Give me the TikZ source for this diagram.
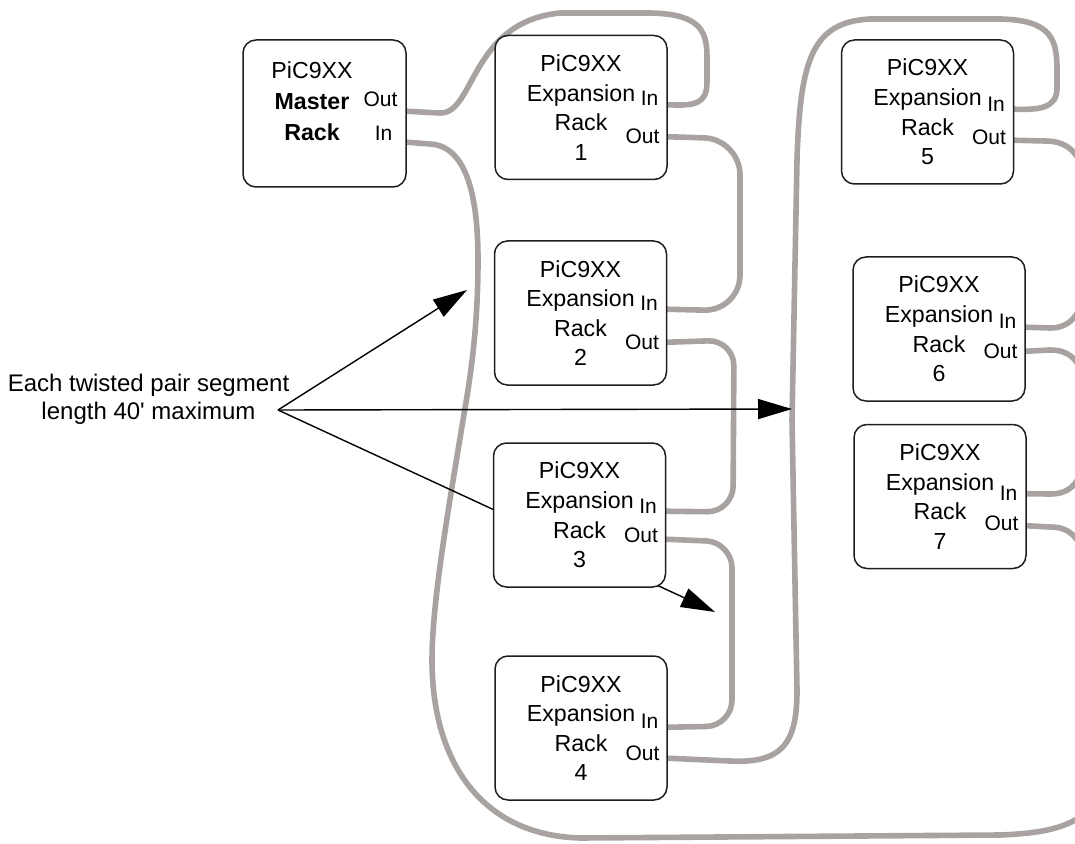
\documentclass[tikz,border=0pt]{standalone}
\usepackage{fontspec}
\setmainfont{Liberation Sans}
\usetikzlibrary{arrows.meta,calc,backgrounds}
\definecolor{cableGray}{RGB}{168,163,160}
\definecolor{boxLine}{RGB}{30,30,30}
\newcommand{\racktext}{\fontsize{11.6}{14.8}\selectfont}
\newcommand{\mastertext}{\fontsize{11.6}{15.6}\selectfont}
\newcommand{\porttext}{\fontsize{10.5}{12}\selectfont}
\newcommand{\notetext}{\fontsize{12}{14}\selectfont}
\tikzset{
  rackbox/.style={rectangle, rounded corners=6.5pt, draw=boxLine, line width=0.75pt,
                  fill=white, minimum width=86pt, minimum height=72pt,
                  align=center, font=\racktext, inner sep=0pt},
  port/.style={inner sep=0pt, font=\porttext},
  cable/.style={draw=cableGray, line width=2.8pt, line cap=round},
  pointer/.style={-{Triangle[length=17pt,width=10pt]}, line width=0.7pt},
  note/.style={align=center, font=\notetext, inner sep=0pt},
}
\newcommand{\ExpRack}[6]{%
  \node[rackbox] (#1) at (#2,#3) {PiC9XX\\Expansion\\Rack\\#4};
  \node[port, anchor=east] (#1in) at ($(#1.north east)+(-9,#5)$) {In};
  \node[port, anchor=east] (#1out) at ($(#1.north east)+(-8,#6)$) {Out};}

\begin{document}
\begin{tikzpicture}[x=0.5pt, y=-0.5pt]
  \useasboundingbox (0,0) rectangle (1075,844);
  \clip (0,0) rectangle (1075,844);

  % --- master rack ---
  \node[rackbox, minimum width=81.5pt, minimum height=73.5pt] (master) at (324.5,113.5) {};
  \node[align=center, font=\mastertext, inner sep=0pt] (mastertxt) at (312,101.5)
    {PiC9XX\\\textbf{Master}\\\textbf{Rack}};
  \node[port, anchor=east] (mastout) at ($(master.north east)+(-9,60)$) {Out};
  \node[port, anchor=east] (mastin) at ($(master.north east)+(-14,94)$) {In};

  % --- expansion racks ---
  \ExpRack{r1}{581}{107.5}{1}{64}{102}
  \ExpRack{r2}{580.5}{313}{2}{63}{102}
  \ExpRack{r3}{579.5}{515}{3}{64}{93}
  \ExpRack{r4}{581}{728}{4}{66}{98}
  \ExpRack{r5}{927.5}{112}{5}{65}{98}
  \ExpRack{r6}{939}{329}{6}{65}{95}
  \ExpRack{r7}{940}{496.5}{7}{70}{100}

  % --- note ---
  \node[note] (note) at (148.5,399) {Each twisted pair segment\\length 40\textquotesingle{} maximum};
  \coordinate (apex) at (278,410);
  \coordinate (tipA) at (467,290);
  \coordinate (tipB) at (792,409);
  \coordinate (tipC) at (715,612);

  \begin{scope}[on background layer]
    \clip (0,0) rectangle (1075,844);
    % master out -> rack 1 in
    \draw[cable] ($(master.east |- mastout)+(0,12)$) -- (440,113)
      .. controls (475,114) and (470,22) .. (560,13) -- (650,13)
      .. controls (705,14) and (707,35) .. (707,60) -- (707,82)
      .. controls (707,104) and (695,106) .. ($(r1.east |- r1in)+(0,6)$);
    % return line into master in
    \draw[cable] ($(master.east |- mastin)+(0,9)$) -- (430,144)
      .. controls (468,146) and (478,200) .. (478,260)
      .. controls (478,330) and (470,380) .. (463,420)
      .. controls (450,500) and (432,600) .. (432,660)
      .. controls (432,760) and (480,835) .. (580,838) -- (1000,835)
      .. controls (1050,833) and (1070,826) .. (1090,810);
    % rack 1 -> 2 -> 3 -> 4
    \draw[cable, rounded corners=18pt] (r1.east |- r1out) -- (740,139) -- (740,311)
      -- ($(r2.east |- r2in)+(0,6)$);
    \draw[cable, rounded corners=13pt] (r2.east |- r2out) -- (734,340) -- (733,512)
      -- ($(r3.east |- r3in)+(0,5)$);
    \draw[cable, rounded corners=13pt] ($(r3.east |- r3out)+(0,4)$) -- (732,542) -- (732,726)
      -- ($(r4.east |- r4in)+(0,6)$);
    % rack 4 out -> rack 5 in, over the top
    \draw[cable] ($(r4.east |- r4out)+(0,5)$) -- (730,761)
      .. controls (785,764) and (797,740) .. (797,690) -- (792,420) -- (797,160)
      .. controls (800,60) and (812,22) .. (870,19) -- (1000,19)
      .. controls (1052,20) and (1057,40) .. (1057,70) -- (1057,88)
      .. controls (1057,108) and (1040,110) .. ($(r5.east |- r5in)+(0,5)$);
    % racks 5 to 7, leaving to the right
    \draw[cable] ($(r5.east |- r5out)+(0,3)$) -- (1045,141)
      .. controls (1065,141) and (1078,150) .. (1085,175);
    \draw[cable] ($(r6.east |- r6in)+(0,6)$) -- (1050,328)
      .. controls (1068,328) and (1078,318) .. (1085,295);
    \draw[cable] (r6.east |- r6out) -- (1050,350)
      .. controls (1068,350) and (1078,358) .. (1085,380);
    \draw[cable] (r7.east |- r7in) -- (1050,494)
      .. controls (1068,494) and (1078,486) .. (1085,462);
    \draw[cable] ($(r7.east |- r7out)+(0,2)$) -- (1050,527)
      .. controls (1068,527) and (1078,535) .. (1085,558);
    % pointers
    \draw[pointer] (apex) -- (tipA);
    \draw[pointer] (apex) -- (tipB);
    \draw[pointer] (apex) -- (tipC);
  \end{scope}
\end{tikzpicture}
\end{document}
